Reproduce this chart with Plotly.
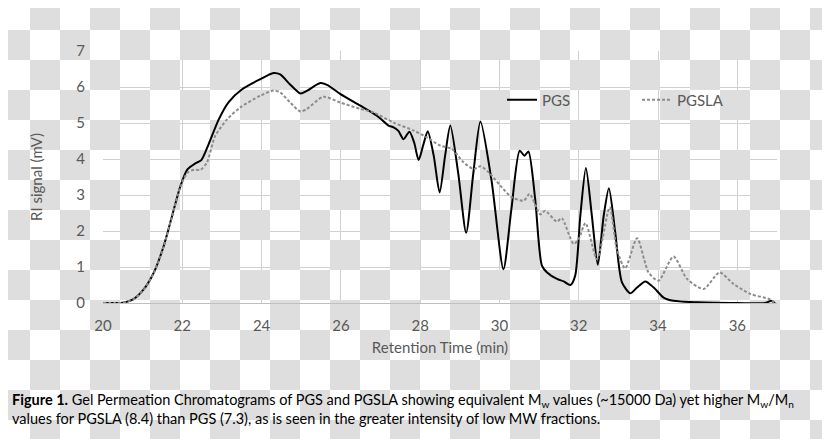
import plotly.graph_objects as go

# retention time (min) and RI signal (mV)
pgs_time = [20.0, 20.3, 20.5, 20.77, 21.02, 21.28, 21.53, 21.74, 21.95, 22.13, 22.33, 22.48,
            22.66, 22.92, 23.17, 23.5, 23.97, 24.3, 24.47, 24.72, 24.98, 25.14, 25.48, 25.65,
            25.98, 26.49, 26.91, 27.2, 27.33, 27.45, 27.58, 27.73, 27.85, 27.96, 28.08, 28.19,
            28.34, 28.49, 28.63, 28.76, 28.96, 29.16, 29.34, 29.52, 29.8, 30.1, 30.3, 30.51,
            30.63, 30.73, 30.9, 31.07, 31.2, 31.45, 31.62, 31.79, 31.91, 32.04, 32.18, 32.33,
            32.48, 32.63, 32.76, 32.92, 33.09, 33.3, 33.47, 33.68, 33.89, 34.14, 34.39, 35.0,
            36.0, 36.7, 36.85, 36.95]
pgs_signal = [0.0, 0.0, 0.01, 0.11, 0.37, 0.84, 1.58, 2.41, 3.24, 3.71, 3.88, 3.97,
              4.4, 5.1, 5.58, 5.93, 6.22, 6.39, 6.35, 6.07, 5.82, 5.89, 6.11, 6.06,
              5.81, 5.48, 5.2, 4.93, 4.88, 4.78, 4.55, 4.76, 4.45, 3.97, 4.4, 4.77,
              4.1, 3.07, 4.1, 4.93, 3.6, 1.95, 3.6, 5.04, 3.4, 0.94, 2.6, 4.23,
              4.09, 4.21, 2.89, 1.04, 0.85, 0.67, 0.6, 0.5, 0.76, 2.43, 3.75, 2.43,
              1.06, 2.43, 3.19, 1.96, 0.57, 0.27, 0.43, 0.6, 0.43, 0.15, 0.06, 0.02,
              0.0, 0.0, 0.06, 0.0]

pgsla_time = [20.0, 20.3, 20.5, 20.77, 21.02, 21.28, 21.53, 21.74, 21.95, 22.13, 22.3, 22.46,
              22.62, 22.83, 23.13, 23.46, 23.97, 24.3, 24.47, 24.72, 24.98, 25.14, 25.56, 25.98,
              26.49, 26.83, 27.33, 27.84, 28.17, 28.51, 28.8, 29.09, 29.35, 29.52, 29.73, 30.02,
              30.31, 30.61, 30.76, 31.03, 31.15, 31.45, 31.57, 31.87, 32.0, 32.17, 32.46, 32.78,
              32.96, 33.17, 33.47, 33.76, 34.01, 34.39, 34.73, 35.15, 35.55, 35.9, 36.33, 36.83,
              36.95]
pgsla_signal = [0.0, 0.0, 0.01, 0.1, 0.36, 0.83, 1.57, 2.4, 3.22, 3.62, 3.7, 3.7,
                3.9, 4.64, 5.1, 5.43, 5.76, 5.9, 5.85, 5.57, 5.32, 5.39, 5.73, 5.57,
                5.39, 5.29, 5.01, 4.79, 4.6, 4.37, 4.28, 3.91, 3.72, 3.8, 3.63, 3.26,
                2.94, 2.84, 3.03, 2.46, 2.56, 2.26, 2.36, 1.64, 1.78, 2.22, 1.22, 2.66,
                1.5, 0.96, 1.8, 0.85, 0.62, 1.29, 0.67, 0.39, 0.85, 0.53, 0.25, 0.1,
                0.0]

x_ticks = [20, 22, 24, 26, 28, 30, 32, 34, 36]
y_ticks = [0, 1, 2, 3, 4, 5, 6, 7]
x_range = [20, 37]
y_range = [0, 7]

# page body has an 8px margin, so the figure is shrunk and everything is laid
# out in window pixels minus that offset
OFF = 8
WIN_W, WIN_H = 830, 439
W, H = WIN_W - OFF, WIN_H - OFF
L, R, T, B = 103 - OFF, 53, 51 - OFF, 136
pw, ph = W - L - R, H - T - B
CHECK = "rgb(222,222,222)"


def px_to_paper(px, py):
    # px, py are window pixels
    return (px - OFF - L) / pw, 1 - (py - OFF - T) / ph


def px_to_data(px, py):
    a, b = px_to_paper(px, py)
    return (x_range[0] + a * (x_range[1] - x_range[0]),
            y_range[0] + b * (y_range[1] - y_range[0]))


# transparency checkerboard behind the whole image (margins)
sq = 30
n_rows, n_cols = WIN_H // sq + 1, WIN_W // sq + 1
shapes = []
for row in range(n_rows):
    for col in range(n_cols):
        if (row + col) % 2 == 1:
            a0, b0 = px_to_paper(col * sq, row * sq)
            a1, b1 = px_to_paper(col * sq + sq, row * sq + sq)
            shapes.append(dict(type="rect", xref="paper", yref="paper", layer="below",
                               x0=a0, x1=a1, y0=b0, y1=b1,
                               fillcolor=CHECK, line=dict(width=0)))

# inside the plot area: grey squares as filled polygons, clipped to the axes
plot_l, plot_r = L + OFF, L + OFF + pw
plot_t, plot_b = T + OFF, T + OFF + ph
sq_x, sq_y = [], []
for row in range(plot_t // sq, plot_b // sq + 1):
    for col in range(plot_l // sq, plot_r // sq + 1):
        if (row + col) % 2 == 1:
            x0, y0 = px_to_data(max(col * sq, plot_l), max(row * sq, plot_t))
            x1, y1 = px_to_data(min(col * sq + sq, plot_r), min(row * sq + sq, plot_b))
            sq_x += [x0, x1, x1, x0, x0, None]
            sq_y += [y0, y0, y1, y1, y0, None]

fig = go.Figure()
fig.add_trace(go.Scatter(x=sq_x, y=sq_y, mode="lines", fill="toself", fillcolor=CHECK,
                         line=dict(width=0, color=CHECK), hoverinfo="skip",
                         showlegend=False))
fig.add_trace(go.Scatter(x=pgs_time, y=pgs_signal, name="PGS", mode="lines",
                         line=dict(color="black", width=2, shape="spline", smoothing=0.7),
                         legend="legend"))
fig.add_trace(go.Scatter(x=pgsla_time, y=pgsla_signal, name="PGSLA", mode="lines",
                         line=dict(color="#8c8c8c", width=2, dash="3px,2px",
                                   shape="spline", smoothing=0.7),
                         legend="legend2"))

caption = ("<b>Figure 1.</b> Gel Permeation Chromatograms of PGS and PGSLA showing equivalent "
           "M<sub>w</sub> values (~15000 Da) yet higher M<sub>w</sub>/M<sub>n</sub><br>"
           "values for PGSLA (8.4) than PGS (7.3), as is seen in the greater intensity of low MW fractions.")

leg_pgs = px_to_paper(502, 100)
leg_pgsla = px_to_paper(637, 100)
cap_pos = px_to_paper(10, 389)

fig.update_layout(
    width=W, height=H,
    margin=dict(l=L, r=R, t=T, b=B),
    paper_bgcolor="white", plot_bgcolor="white",
    font=dict(family="Lato", size=15, color="#595959"),
    shapes=shapes,
    showlegend=True,
    xaxis=dict(range=x_range, tickvals=x_ticks, showgrid=True, gridcolor="#d0d0d0",
               gridwidth=1, zeroline=False, showline=True, linecolor="#bfbfbf",
               ticks="", ticklabelstandoff=9,
               title=dict(text="Retention Time (min)", standoff=9, font=dict(size=15))),
    yaxis=dict(range=y_range, tickvals=y_ticks, showgrid=True, gridcolor="#d0d0d0",
               gridwidth=1, zeroline=False, showline=False,
               ticks="outside", ticklen=14, tickcolor="rgba(0,0,0,0)",
               title=dict(text="RI signal (mV)", standoff=30, font=dict(size=15))),
    legend=dict(x=leg_pgs[0], y=leg_pgs[1], xanchor="left", yanchor="middle",
                bgcolor="rgba(0,0,0,0)", font=dict(size=15, color="#595959")),
    legend2=dict(x=leg_pgsla[0], y=leg_pgsla[1], xanchor="left", yanchor="middle",
                 bgcolor="rgba(0,0,0,0)", font=dict(size=15, color="#595959")),
    annotations=[dict(text=caption, xref="paper", yref="paper", x=cap_pos[0],
                      y=cap_pos[1], xanchor="left", yanchor="top", align="left",
                      showarrow=False, font=dict(size=14.5, color="black"))],
)

fig.write_html("out.html")
